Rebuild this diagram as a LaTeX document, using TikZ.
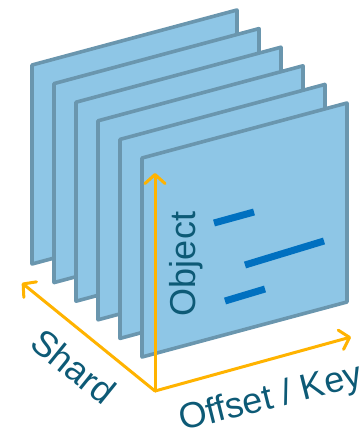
\documentclass[tikz,border=0pt]{standalone}
\usepackage{fontspec}
\setmainfont{Liberation Sans}
\usetikzlibrary{arrows.meta}
\definecolor{panelfill}{HTML}{8EC6E6}
\definecolor{paneledge}{HTML}{6A96AE}
\definecolor{axisgold}{HTML}{FFB300}
\definecolor{bardark}{HTML}{0070C0}
\definecolor{labelteal}{HTML}{0D5A76}
\tikzset{
  panel/.style={fill=panelfill, draw=paneledge, line width=3.6pt, line join=round},
  axisarrow/.style={draw=axisgold, line width=3pt, line cap=round, line join=round,
    -{Straight Barb[length=9pt,width=20pt,line cap=round,line join=round]}},
  objbar/.style={draw=bardark, line width=7pt},
  axislabel/.style={text=labelteal, font=\fontsize{36}{36}\selectfont, inner sep=0pt}
}
\begin{document}
\begin{tikzpicture}[x=1pt,y=-1pt]
\useasboundingbox (0,0) rectangle (362,436);
\foreach \i in {0,...,5}{
  \pgfmathsetmacro{\px}{32+22*\i}
  \pgfmathsetmacro{\py}{65+18.6*\i}
  \draw[panel] (\px,\py) -- ++(205,-55) -- ++(0,199) -- ++(-205,55) -- cycle;
}
\draw[objbar] (214,223) -- (254,212);
\draw[objbar] (245,265) -- (324,241);
\draw[objbar] (225,301) -- (265,289);
\coordinate (o) at (155,391);
\coordinate (up) at (155,173);
\coordinate (right) at (351,337);
\coordinate (left) at (22,283);
\draw[axisarrow] (o) -- (up);
\draw[axisarrow] (o) -- (right);
\draw[axisarrow] (o) -- (left);
\node[axislabel, rotate=90] (obj) at (186,264) {Object};
\node[axislabel, rotate=-39, anchor=base west] (shard) at (28,346) {Shard};
\node[axislabel, rotate=14, anchor=base west] (okey) at (182,431) {Offset / Key};
\end{tikzpicture}
\end{document}
